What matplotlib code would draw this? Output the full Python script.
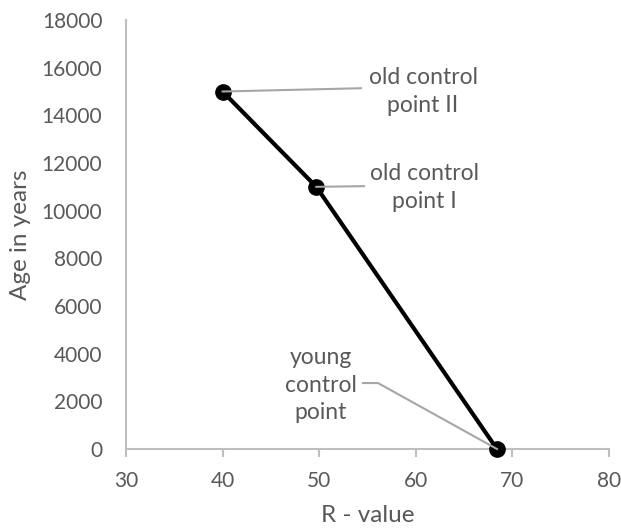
import matplotlib.pyplot as plt

# R-value calibration points
r_value = [40, 49.7, 68.4]
age_years = [15000, 11000, 0]
point_labels = ['old control\npoint II', 'old control\npoint I', 'young\ncontrol\npoint']

x_ticks = [30, 40, 50, 60, 70, 80]
y_ticks = list(range(0, 18001, 2000))

plt.rcParams['font.family'] = ['Lato', 'DejaVu Sans']

axis_gray = '#BFBFBF'
text_gray = '#595959'
leader_gray = '#A6A6A6'

fig = plt.figure(figsize=(6.21, 5.30), dpi=100)
ax = fig.add_axes([126 / 621, 1 - 449 / 530, (609 - 126) / 621, (449 - 20) / 530])

ax.plot(r_value, age_years, color='black', linewidth=3, marker='o',
        markersize=11, zorder=3, clip_on=False)

ax.set_xlim(30, 80)
ax.set_ylim(0, 18000)
ax.set_xticks(x_ticks)
ax.set_yticks(y_ticks)

for side in ['top', 'right']:
    ax.spines[side].set_visible(False)
for side in ['left', 'bottom']:
    ax.spines[side].set_color(axis_gray)
    ax.spines[side].set_linewidth(1.5)

ax.tick_params(axis='x', direction='out', length=6, width=1.5, color=axis_gray,
               labelsize=15, labelcolor=text_gray, pad=10)
ax.tick_params(axis='y', length=0, labelsize=15, labelcolor=text_gray, pad=17)

ax.set_xlabel('R - value', fontsize=17.5, color=text_gray, labelpad=10)
ax.set_ylabel('Age in years', fontsize=17.5, color=text_gray, labelpad=8)

# labels with leader lines back to each point
label_pos = [(60.75, 15011), (60.85, 10986), (50.19, 2683)]
leader_end = [(54.33, 15137), (54.64, 11028), (54.53, 2767)]
for i, (txt, (tx, ty), (lx, ly)) in enumerate(zip(point_labels, label_pos, leader_end)):
    ax.text(tx, ty, txt, ha='center', va='center', fontsize=16.5,
            color=text_gray, linespacing=1.4)
    if i == 2:
        xs = [lx, 56.09, r_value[i]]
        ys = [ly, ly, age_years[i]]
    else:
        xs = [lx, r_value[i]]
        ys = [ly, age_years[i]]
    ax.plot(xs, ys, color=leader_gray, linewidth=1.5, zorder=4, clip_on=False)

fig.savefig('out.png', dpi=100, facecolor='white')
